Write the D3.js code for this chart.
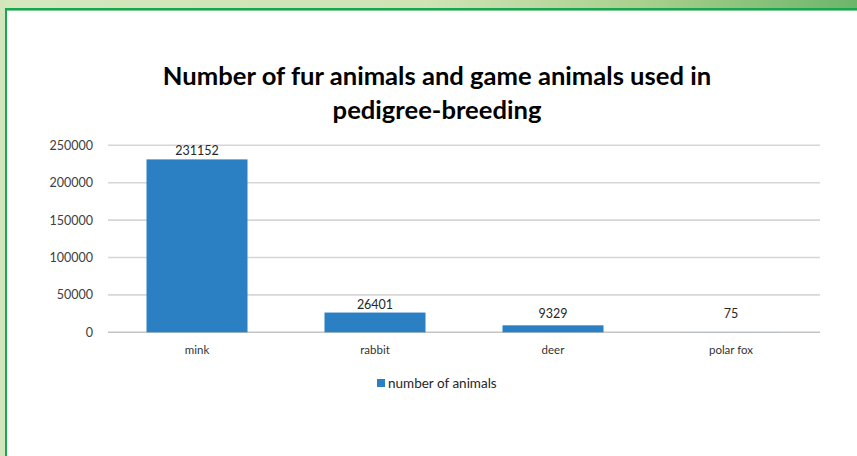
<!DOCTYPE html>
<html><head><meta charset="utf-8">
<script src="https://cdn.jsdelivr.net/npm/d3@7"></script>
<style>
html,body{margin:0;padding:0;background:#fff;}
svg{display:block;}
text{font-family:Lato,"Open Sans",sans-serif;}
</style></head>
<body>
<svg id="c" width="857" height="456"></svg>
<script>
const categories = ["mink", "rabbit", "deer", "polar fox"];
const values = [231152, 26401, 9329, 75];
const yTicks = [0, 50000, 100000, 150000, 200000, 250000];
const seriesName = "number of animals";
const titleLines = ["Number of fur animals and game animals used in", "pedigree-breeding"];

const svg = d3.select("#c");
const W = 857, H = 456;

// frame decoration
const defs = svg.append("defs");
const g1 = defs.append("linearGradient").attr("id","topg").attr("x1","0").attr("x2","1").attr("y1","0").attr("y2","0");
g1.append("stop").attr("offset","0").attr("stop-color","#d5e7bd");
g1.append("stop").attr("offset","0.5").attr("stop-color","#cfe3b5");
g1.append("stop").attr("offset","0.75").attr("stop-color","#a8d08e");
g1.append("stop").attr("offset","1").attr("stop-color","#6db56a");
svg.append("rect").attr("x",0).attr("y",0).attr("width",W).attr("height",H).attr("fill","#fff");
svg.append("rect").attr("x",0).attr("y",0).attr("width",W).attr("height",8).attr("fill","url(#topg)");
svg.append("rect").attr("x",0).attr("y",0).attr("width",5).attr("height",H).attr("fill","#d3e6bb");
svg.append("rect").attr("x",5).attr("y",8).attr("width",W-5).attr("height",2).attr("fill","#17a653");
svg.append("rect").attr("x",5).attr("y",10).attr("width",W-5).attr("height",1).attr("fill","#7cc98e");
svg.append("rect").attr("x",5).attr("y",8).attr("width",2).attr("height",H-8).attr("fill","#17a653");

// title
const title = svg.append("text").attr("text-anchor","middle").attr("fill","#000")
  .style("font-weight","bold").style("font-size","25.6px");
titleLines.forEach((t,i)=>{
  title.append("tspan").attr("x",437).attr("y",85 + i*34).text(t);
});

const plotL = 108, plotR = 820, plotT = 145.3, plotB = 332.3;
const x = d3.scaleBand().domain(categories).range([plotL,plotR]).paddingInner(0.4326).paddingOuter(0.2163);
const y = d3.scaleLinear().domain([0,250000]).range([plotB, plotT]);

// gridlines
svg.append("g").selectAll("line").data(yTicks).join("line")
  .attr("x1",plotL).attr("x2",plotR)
  .attr("y1",d=>y(d)).attr("y2",d=>y(d))
  .attr("stroke",d=>d===0?"#c4c4c4":"#d6d6d6").attr("stroke-width",1.6);

// y axis labels
const yAxis = d3.axisLeft(y).tickValues(yTicks).tickSize(0).tickPadding(0).tickFormat(d3.format("d"));
const ya = svg.append("g").attr("transform",`translate(93,0)`).call(yAxis);
ya.select(".domain").remove();
ya.selectAll("text").style("font-size","12.5px").attr("fill","#404040").attr("font-family","Lato,'Open Sans',sans-serif");

// bars
svg.append("g").selectAll("rect").data(values).join("rect")
  .attr("x",(d,i)=>x(categories[i]))
  .attr("width",x.bandwidth())
  .attr("y",d=>y(d))
  .attr("height",d=>plotB - y(d))
  .attr("fill","#2b80c4");

// value labels
svg.append("g").selectAll("text").data(values).join("text")
  .attr("x",(d,i)=>x(categories[i]) + x.bandwidth()/2)
  .attr("y",d=>Math.min(y(d) - 4, plotB - 14))
  .attr("text-anchor","middle")
  .style("font-size","12.5px").attr("fill","#262626")
  .text(d=>d);

// x axis labels
const xAxis = d3.axisBottom(x).tickSize(0).tickPadding(0);
const xa = svg.append("g").attr("transform",`translate(0,${plotB + 14})`).call(xAxis);
xa.select(".domain").remove();
xa.selectAll("text").style("font-size","11.5px").attr("fill","#333").attr("font-family","Lato,'Open Sans',sans-serif").attr("dy","0.71em");

// legend
const lg = svg.append("g").attr("transform","translate(377,379)");
lg.append("rect").attr("x",0).attr("y",0).attr("width",8).attr("height",8).attr("fill","#2b80c4");
lg.append("text").attr("x",11).attr("y",4).attr("dy","0.35em").style("font-size","13.5px").attr("fill","#262626").text(seriesName);
</script>
</body></html>
